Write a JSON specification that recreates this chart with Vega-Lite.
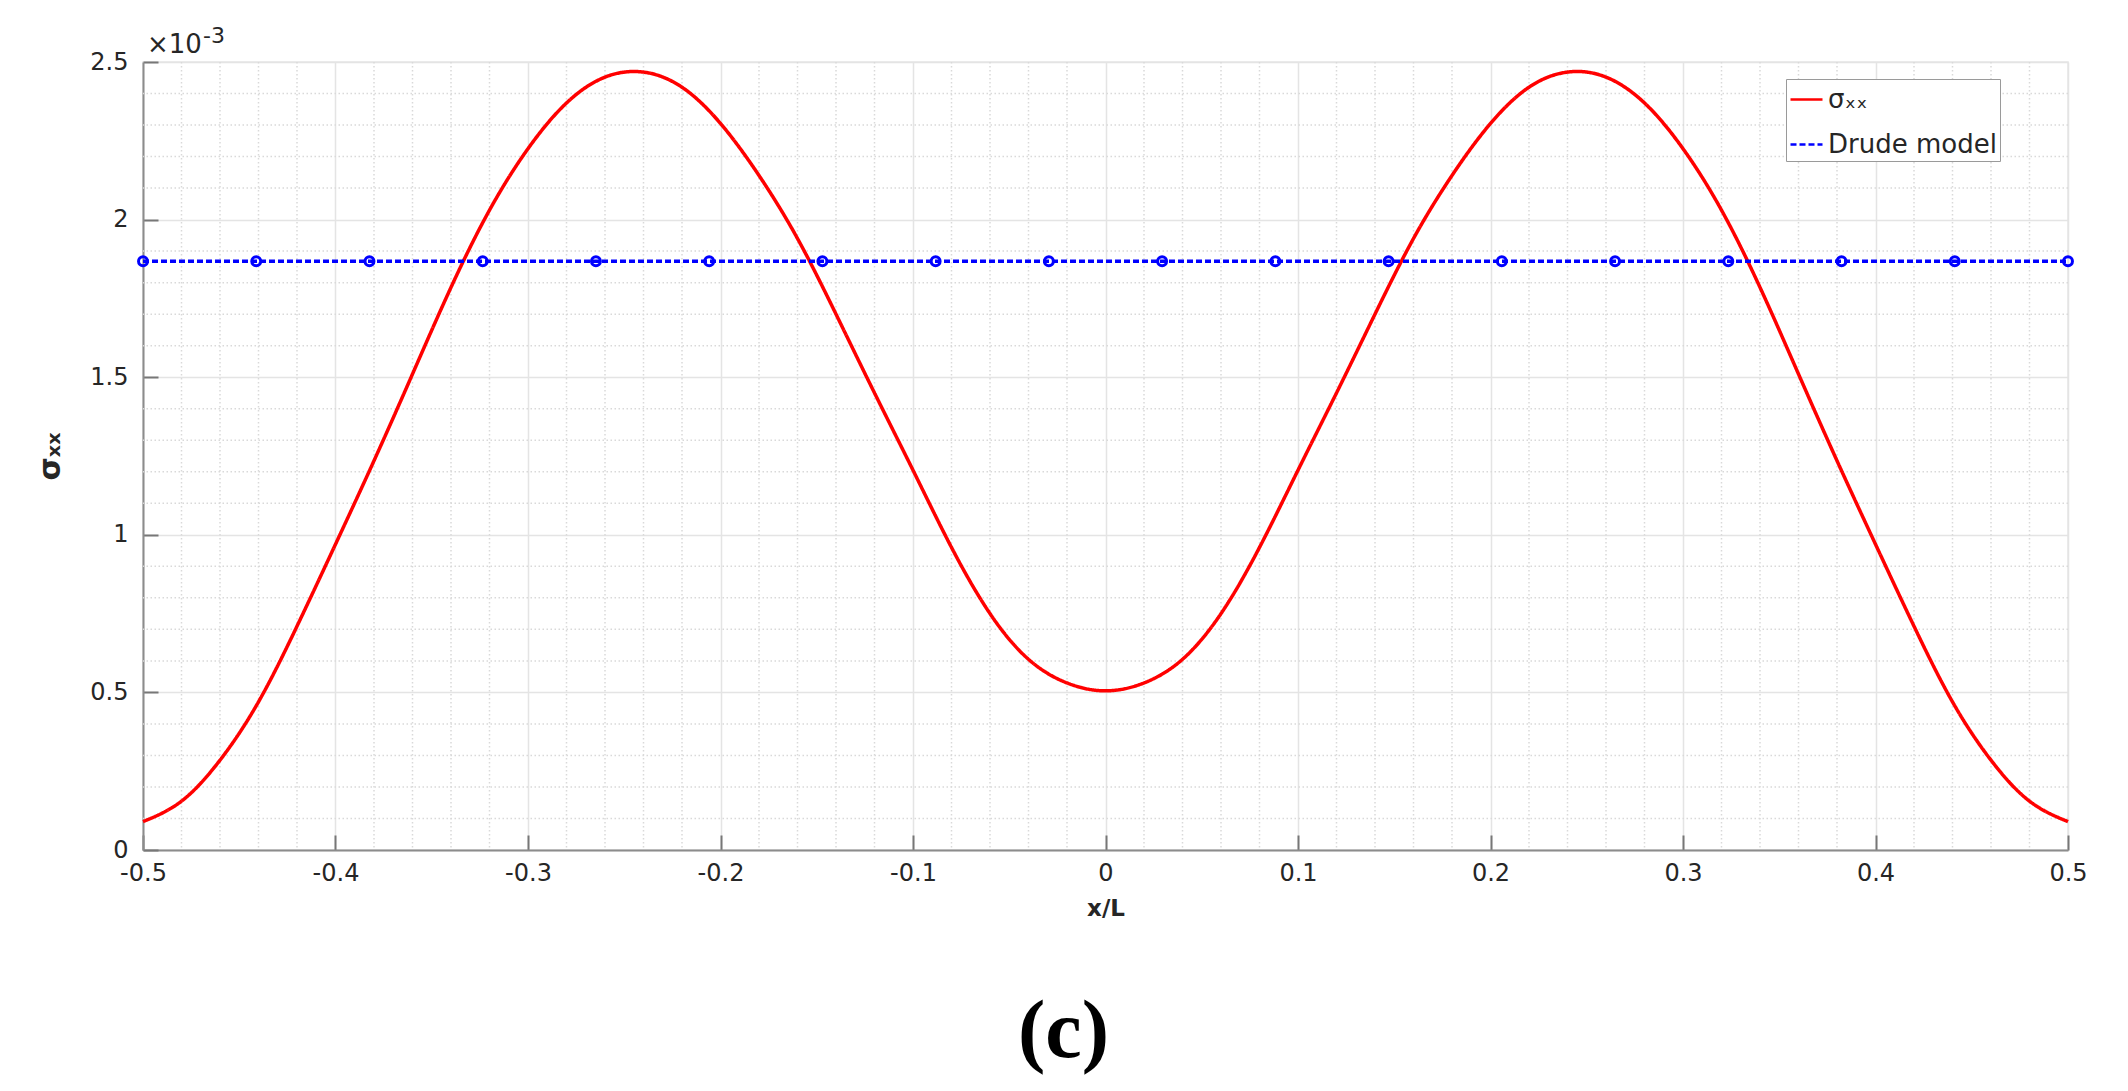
{
  "$schema": "https://vega.github.io/schema/vega-lite/v6.json",
  "autosize": "none",
  "width": 1925,
  "height": 788,
  "padding": {"left": 143, "top": 62, "right": 60, "bottom": 241},
  "background": "white",
  "datasets": {
    "minorX": [
      {"v": -0.48}, {"v": -0.46}, {"v": -0.44}, {"v": -0.42},
      {"v": -0.38}, {"v": -0.36}, {"v": -0.34}, {"v": -0.32},
      {"v": -0.28}, {"v": -0.26}, {"v": -0.24}, {"v": -0.22},
      {"v": -0.18}, {"v": -0.16}, {"v": -0.14}, {"v": -0.12},
      {"v": -0.08}, {"v": -0.06}, {"v": -0.04}, {"v": -0.02},
      {"v": 0.02}, {"v": 0.04}, {"v": 0.06}, {"v": 0.08},
      {"v": 0.12}, {"v": 0.14}, {"v": 0.16}, {"v": 0.18},
      {"v": 0.22}, {"v": 0.24}, {"v": 0.26}, {"v": 0.28},
      {"v": 0.32}, {"v": 0.34}, {"v": 0.36}, {"v": 0.38},
      {"v": 0.42}, {"v": 0.44}, {"v": 0.46}, {"v": 0.48}
    ],
    "minorY": [
      {"v": 0.1}, {"v": 0.2}, {"v": 0.3}, {"v": 0.4},
      {"v": 0.6}, {"v": 0.7}, {"v": 0.8}, {"v": 0.9},
      {"v": 1.1}, {"v": 1.2}, {"v": 1.3}, {"v": 1.4},
      {"v": 1.6}, {"v": 1.7}, {"v": 1.8}, {"v": 1.9},
      {"v": 2.1}, {"v": 2.2}, {"v": 2.3}, {"v": 2.4}
    ],
    "curves": [
      {"x": -0.5, "y": 0.09, "series": "σₓₓ"},
      {"x": -0.48, "y": 0.155, "series": "σₓₓ"},
      {"x": -0.46, "y": 0.285, "series": "σₓₓ"},
      {"x": -0.44, "y": 0.47, "series": "σₓₓ"},
      {"x": -0.42, "y": 0.71, "series": "σₓₓ"},
      {"x": -0.4, "y": 0.97, "series": "σₓₓ"},
      {"x": -0.38, "y": 1.235, "series": "σₓₓ"},
      {"x": -0.36, "y": 1.51, "series": "σₓₓ"},
      {"x": -0.34, "y": 1.785, "series": "σₓₓ"},
      {"x": -0.32, "y": 2.03, "series": "σₓₓ"},
      {"x": -0.3, "y": 2.225, "series": "σₓₓ"},
      {"x": -0.28, "y": 2.37, "series": "σₓₓ"},
      {"x": -0.26, "y": 2.452, "series": "σₓₓ"},
      {"x": -0.24, "y": 2.468, "series": "σₓₓ"},
      {"x": -0.22, "y": 2.42, "series": "σₓₓ"},
      {"x": -0.2, "y": 2.305, "series": "σₓₓ"},
      {"x": -0.18, "y": 2.14, "series": "σₓₓ"},
      {"x": -0.16, "y": 1.94, "series": "σₓₓ"},
      {"x": -0.14, "y": 1.7, "series": "σₓₓ"},
      {"x": -0.12, "y": 1.45, "series": "σₓₓ"},
      {"x": -0.1, "y": 1.205, "series": "σₓₓ"},
      {"x": -0.08, "y": 0.96, "series": "σₓₓ"},
      {"x": -0.06, "y": 0.75, "series": "σₓₓ"},
      {"x": -0.04, "y": 0.605, "series": "σₓₓ"},
      {"x": -0.02, "y": 0.53, "series": "σₓₓ"},
      {"x": 0, "y": 0.505, "series": "σₓₓ"},
      {"x": 0.02, "y": 0.53, "series": "σₓₓ"},
      {"x": 0.04, "y": 0.605, "series": "σₓₓ"},
      {"x": 0.06, "y": 0.75, "series": "σₓₓ"},
      {"x": 0.08, "y": 0.96, "series": "σₓₓ"},
      {"x": 0.1, "y": 1.205, "series": "σₓₓ"},
      {"x": 0.12, "y": 1.45, "series": "σₓₓ"},
      {"x": 0.14, "y": 1.7, "series": "σₓₓ"},
      {"x": 0.16, "y": 1.94, "series": "σₓₓ"},
      {"x": 0.18, "y": 2.14, "series": "σₓₓ"},
      {"x": 0.2, "y": 2.305, "series": "σₓₓ"},
      {"x": 0.22, "y": 2.42, "series": "σₓₓ"},
      {"x": 0.24, "y": 2.468, "series": "σₓₓ"},
      {"x": 0.26, "y": 2.452, "series": "σₓₓ"},
      {"x": 0.28, "y": 2.37, "series": "σₓₓ"},
      {"x": 0.3, "y": 2.225, "series": "σₓₓ"},
      {"x": 0.32, "y": 2.03, "series": "σₓₓ"},
      {"x": 0.34, "y": 1.785, "series": "σₓₓ"},
      {"x": 0.36, "y": 1.51, "series": "σₓₓ"},
      {"x": 0.38, "y": 1.235, "series": "σₓₓ"},
      {"x": 0.4, "y": 0.97, "series": "σₓₓ"},
      {"x": 0.42, "y": 0.71, "series": "σₓₓ"},
      {"x": 0.44, "y": 0.47, "series": "σₓₓ"},
      {"x": 0.46, "y": 0.285, "series": "σₓₓ"},
      {"x": 0.48, "y": 0.155, "series": "σₓₓ"},
      {"x": 0.5, "y": 0.09, "series": "σₓₓ"},
      {"x": -0.5, "y": 1.868, "series": "Drude model"},
      {"x": -0.44118, "y": 1.868, "series": "Drude model"},
      {"x": -0.38235, "y": 1.868, "series": "Drude model"},
      {"x": -0.32353, "y": 1.868, "series": "Drude model"},
      {"x": -0.26471, "y": 1.868, "series": "Drude model"},
      {"x": -0.20588, "y": 1.868, "series": "Drude model"},
      {"x": -0.14706, "y": 1.868, "series": "Drude model"},
      {"x": -0.08824, "y": 1.868, "series": "Drude model"},
      {"x": -0.02941, "y": 1.868, "series": "Drude model"},
      {"x": 0.02941, "y": 1.868, "series": "Drude model"},
      {"x": 0.08824, "y": 1.868, "series": "Drude model"},
      {"x": 0.14706, "y": 1.868, "series": "Drude model"},
      {"x": 0.20588, "y": 1.868, "series": "Drude model"},
      {"x": 0.26471, "y": 1.868, "series": "Drude model"},
      {"x": 0.32353, "y": 1.868, "series": "Drude model"},
      {"x": 0.38235, "y": 1.868, "series": "Drude model"},
      {"x": 0.44118, "y": 1.868, "series": "Drude model"},
      {"x": 0.5, "y": 1.868, "series": "Drude model"}
    ]
  },
  "title": {
    "text": "(c)",
    "orient": "bottom",
    "anchor": "middle",
    "frame": "group",
    "dx": -42,
    "offset": 72,
    "font": "Liberation Serif",
    "fontSize": 82,
    "fontWeight": "bold",
    "color": "black"
  },
  "config": {
    "view": {"stroke": "#e6e6e6", "strokeWidth": 1.5},
    "axis": {
      "domainColor": "#8c8c8c",
      "domainWidth": 2,
      "tickColor": "#777777",
      "tickWidth": 2,
      "tickSize": -15,
      "gridColor": "#e4e4e4",
      "gridWidth": 1.5,
      "labelFont": "DejaVu Sans",
      "labelFontSize": 24,
      "labelColor": "#262626",
      "titleFont": "DejaVu Sans",
      "titleFontWeight": "bold",
      "titleColor": "#262626"
    },
    "legend": {
      "orient": "none",
      "legendX": 1643,
      "legendY": 17,
      "strokeColor": "#9a9a9a",
      "fillColor": "white",
      "padding": 3,
      "symbolType": "stroke",
      "symbolSize": 1024,
      "symbolStrokeWidth": 2.5,
      "labelFont": "DejaVu Sans",
      "labelFontSize": 26,
      "labelLimit": 400,
      "labelColor": "#262626",
      "rowPadding": 14
    }
  },
  "layer": [
    {
      "data": {"name": "minorX"},
      "mark": {"type": "rule", "color": "#d9d9d9", "strokeWidth": 1.5, "strokeDash": [1.5, 2.5]},
      "encoding": {"x": {"field": "v", "type": "quantitative"}}
    },
    {
      "data": {"name": "minorY"},
      "mark": {"type": "rule", "color": "#d9d9d9", "strokeWidth": 1.5, "strokeDash": [1.5, 2.5]},
      "encoding": {"y": {"field": "v", "type": "quantitative"}}
    },
    {
      "data": {"name": "curves"},
      "mark": {"type": "line", "interpolate": "natural", "strokeWidth": 3.5},
      "encoding": {
        "x": {
          "field": "x",
          "type": "quantitative",
          "scale": {"domain": [-0.5, 0.5], "nice": false},
          "axis": {
            "title": "x/L",
            "titleFontSize": 23,
            "titlePadding": 12,
            "labelPadding": 26,
            "labelOverlap": false,
            "labelFlush": false,
            "values": [-0.5, -0.4, -0.3, -0.2, -0.1, 0, 0.1, 0.2, 0.3, 0.4, 0.5],
            "labelExpr": "toString(round(datum.value * 10) / 10)",
            "grid": true
          }
        },
        "y": {
          "field": "y",
          "type": "quantitative",
          "scale": {"domain": [0, 2.5], "nice": false},
          "axis": {
            "title": "σₓₓ",
            "titleFontSize": 30,
            "titlePadding": 24,
            "labelPadding": 30,
            "labelOverlap": false,
            "labelFlush": false,
            "values": [0, 0.5, 1, 1.5, 2, 2.5],
            "labelExpr": "toString(round(datum.value * 10) / 10)",
            "grid": true
          }
        },
        "detail": {"field": "series", "type": "nominal"},
        "color": {
          "field": "series",
          "type": "nominal",
          "title": null,
          "scale": {"domain": ["σₓₓ", "Drude model"], "range": ["#ff0000", "#0000ff"]}
        },
        "strokeDash": {
          "field": "series",
          "type": "nominal",
          "title": null,
          "scale": {"domain": ["σₓₓ", "Drude model"], "range": [[1, 0], [6, 3]]}
        }
      }
    },
    {
      "data": {"name": "curves"},
      "transform": [{"filter": "datum.series == 'Drude model'"}],
      "mark": {"type": "point", "filled": false, "stroke": "#0000ff", "strokeWidth": 3, "size": 80, "opacity": 1},
      "encoding": {
        "x": {"field": "x", "type": "quantitative"},
        "y": {"field": "y", "type": "quantitative"}
      }
    },
    {
      "data": {"values": [{"label": "×10"}]},
      "mark": {"type": "text", "align": "left", "baseline": "alphabetic", "dx": 4, "dy": -9, "font": "DejaVu Sans", "fontSize": 26, "color": "#262626"},
      "encoding": {
        "x": {"datum": -0.5},
        "y": {"datum": 2.5},
        "text": {"field": "label"}
      }
    },
    {
      "data": {"values": [{"label": "-3"}]},
      "mark": {"type": "text", "align": "left", "baseline": "alphabetic", "dx": 60, "dy": -19, "font": "DejaVu Sans", "fontSize": 22, "color": "#262626"},
      "encoding": {
        "x": {"datum": -0.5},
        "y": {"datum": 2.5},
        "text": {"field": "label"}
      }
    }
  ]
}
